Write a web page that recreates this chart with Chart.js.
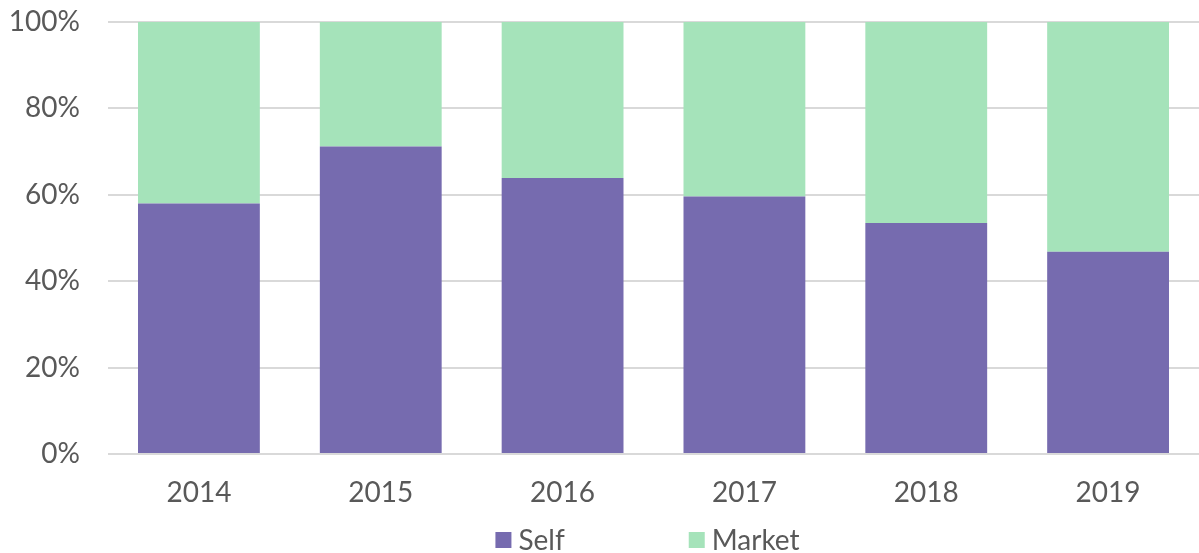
<!DOCTYPE html>
<html>
<head>
<meta charset="utf-8">
<script src="https://cdn.jsdelivr.net/npm/chart.js@4"></script>
<style>
  html, body { margin: 0; padding: 0; background: #ffffff; }
  #wrap { width: 1199px; height: 553px; }
</style>
</head>
<body>
<div id="wrap"><canvas id="c" width="1199" height="553"></canvas></div>
<script>
const categories = ["2014", "2015", "2016", "2017", "2018", "2019"];
const selfValues = [58, 71.2, 63.9, 59.6, 53.5, 46.8];
const marketValues = [42, 28.8, 36.1, 40.4, 46.5, 53.2];
const yTicks = [0, 20, 40, 60, 80, 100];

const textColor = "#595959";
const fontFamily = "Lato, 'Open Sans', sans-serif";
const fontSize = 28;

const bottomLegend = {
  id: "bottomLegend",
  afterDraw(chart) {
    const ctx = chart.ctx;
    const ca = chart.chartArea;
    ctx.save();
    ctx.font = fontSize + "px " + fontFamily;
    ctx.textBaseline = "middle";
    ctx.textAlign = "left";
    const box = 16, boxGap = 7, itemGap = 124;
    const items = chart.data.datasets.map(d => ({ label: d.label, color: d.backgroundColor, w: ctx.measureText(d.label).width }));
    let total = 0;
    items.forEach((it, i) => { total += box + boxGap + it.w + (i < items.length - 1 ? itemGap : 0); });
    let x = (ca.left + ca.right) / 2 - 6 - total / 2;
    const cy = 540;
    items.forEach(it => {
      ctx.fillStyle = it.color;
      ctx.fillRect(x, cy - box / 2, box, box);
      ctx.fillStyle = textColor;
      ctx.fillText(it.label, x + box + boxGap, cy + 1);
      x += box + boxGap + it.w + itemGap;
    });
    ctx.restore();
  }
};

function zeroPad(axis) {
  axis.paddingTop = 0; axis.paddingBottom = 0; axis.paddingLeft = 0; axis.paddingRight = 0;
}

new Chart(document.getElementById("c"), {
  type: "bar",
  data: {
    labels: categories,
    datasets: [
      { label: "Self", data: selfValues, backgroundColor: "#766baf", borderWidth: 0 },
      { label: "Market", data: marketValues, backgroundColor: "#a5e3ba", borderWidth: 0 }
    ]
  },
  plugins: [bottomLegend],
  options: {
    responsive: false,
    animation: false,
    layout: { padding: { left: 6, right: 0, top: 22, bottom: 39 } },
    datasets: { bar: { barPercentage: 0.67, categoryPercentage: 1.0 } },
    plugins: {
      legend: { display: false },
      tooltip: { enabled: false }
    },
    scales: {
      x: {
        stacked: true,
        clip: false,
        grid: { display: false },
        border: { display: false },
        afterFit: (axis) => { axis.height = 60; zeroPad(axis); },
        ticks: { color: textColor, font: { family: fontFamily, size: fontSize }, padding: 14, maxRotation: 0 }
      },
      y: {
        stacked: true,
        clip: false,
        min: 0,
        max: 100,
        afterBuildTicks: (axis) => { axis.ticks = yTicks.map(v => ({ value: v })); },
        afterFit: (axis) => { axis.width = 102; zeroPad(axis); },
        grid: { color: "#d9d9d9", lineWidth: 2, drawTicks: false },
        border: { display: false },
        ticks: {
          color: textColor,
          font: { family: fontFamily, size: fontSize },
          padding: 28,
          callback: (v) => v + "%"
        }
      }
    }
  }
});
</script>
</body>
</html>
